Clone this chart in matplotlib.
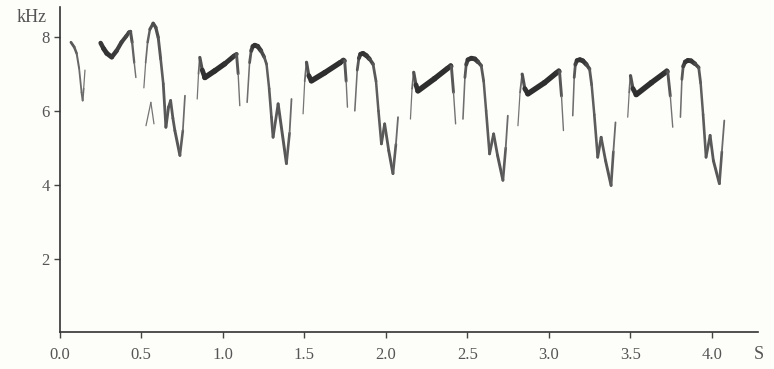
import matplotlib
matplotlib.use('Agg')
import matplotlib.pyplot as plt
from matplotlib.collections import LineCollection

# song elements: time (s), frequency (kHz), relative intensity
a_t = [0.070, 0.090, 0.105, 0.120, 0.135, 0.142, 0.148, 0.156]
a_f = [7.85, 7.72, 7.55, 7.15, 6.50, 6.28, 6.60, 7.10]
a_amp = [2.0, 2.0, 1.6, 1.3, 1.3, 1.5, 1.0, 0.8]

b_t = [0.252, 0.270, 0.290, 0.320, 0.350, 0.380, 0.410, 0.425, 0.435, 0.445, 0.458, 0.468]
b_f = [7.83, 7.68, 7.55, 7.45, 7.62, 7.85, 8.02, 8.12, 8.14, 7.85, 7.30, 6.90]
b_amp = [3.0, 3.5, 3.5, 3.5, 3.0, 3.0, 2.8, 2.6, 2.4, 2.0, 1.3, 0.8]

c_t = [0.517, 0.528, 0.540, 0.554, 0.574, 0.590, 0.605, 0.620, 0.636, 0.652,
       0.668, 0.681, 0.695, 0.707, 0.738, 0.756, 0.769]
c_f = [6.62, 7.30, 7.85, 8.20, 8.36, 8.25, 7.98, 7.40, 6.73, 5.56,
       6.10, 6.28, 5.80, 5.47, 4.80, 5.47, 6.41]
c_amp = [0.8, 1.0, 1.5, 2.0, 2.5, 2.5, 2.2, 2.0, 1.8, 2.2,
         2.0, 2.0, 2.0, 2.0, 2.2, 1.5, 1.0]

d_t = [0.530, 0.560, 0.579]
d_f = [5.60, 6.23, 5.65]
d_amp = [0.8, 1.0, 0.8]

# rising "plateau" notes
up_amp = [0.8, 1.0, 1.6, 3.0, 4.0, 4.0, 3.8, 3.2, 3.0, 1.2, 0.8]
e_t = [0.844, 0.852, 0.860, 0.875, 0.891, 0.952, 1.013, 1.070, 1.085, 1.095, 1.105]
e_f = [6.32, 7.00, 7.44, 7.10, 6.90, 7.08, 7.27, 7.48, 7.53, 7.00, 6.14]
g_t = [1.493, 1.503, 1.514, 1.528, 1.544, 1.626, 1.720, 1.740, 1.748, 1.757, 1.765]
g_f = [5.92, 6.80, 7.31, 6.95, 6.81, 7.03, 7.30, 7.37, 7.35, 6.80, 6.10]
i_t = [2.151, 2.161, 2.171, 2.185, 2.197, 2.299, 2.380, 2.398, 2.402, 2.415, 2.428]
i_f = [5.78, 6.60, 7.04, 6.70, 6.54, 6.87, 7.15, 7.22, 7.20, 6.50, 5.65]
k_t = [2.810, 2.823, 2.836, 2.852, 2.871, 2.973, 3.045, 3.060, 3.065, 3.077, 3.089]
k_f = [5.60, 6.50, 6.99, 6.60, 6.46, 6.76, 7.02, 7.08, 7.06, 6.40, 5.47]
m_t = [3.483, 3.492, 3.500, 3.515, 3.535, 3.628, 3.708, 3.722, 3.728, 3.744, 3.759]
m_f = [5.83, 6.50, 6.95, 6.60, 6.44, 6.76, 7.02, 7.08, 7.06, 6.40, 5.56]

# arch + "W" notes
w_amp = [0.8, 1.5, 2.5, 3.2, 3.5, 3.5, 3.0, 2.2, 1.8, 1.8, 2.0, 2.0, 2.0, 2.2, 1.6, 1.0]
f_t = [1.150, 1.165, 1.175, 1.185, 1.197, 1.215, 1.235, 1.255, 1.269, 1.285,
       1.299, 1.309, 1.340, 1.391, 1.410, 1.422]
f_f = [6.23, 7.30, 7.62, 7.74, 7.77, 7.74, 7.62, 7.45, 7.26, 6.60,
       5.83, 5.29, 6.19, 4.58, 5.40, 6.32]
h_t = [1.810, 1.825, 1.835, 1.845, 1.860, 1.881, 1.900, 1.922, 1.940, 1.955,
       1.973, 1.993, 2.018, 2.044, 2.062, 2.075]
h_f = [6.00, 7.10, 7.42, 7.53, 7.55, 7.49, 7.40, 7.26, 6.80, 6.00,
       5.11, 5.65, 4.93, 4.31, 5.10, 5.83]
j_t = [2.473, 2.485, 2.493, 2.503, 2.525, 2.546, 2.565, 2.585, 2.600, 2.615,
       2.636, 2.661, 2.685, 2.718, 2.735, 2.748]
j_f = [5.78, 6.90, 7.25, 7.38, 7.42, 7.40, 7.32, 7.22, 6.80, 6.00,
       4.84, 5.38, 4.80, 4.13, 5.00, 5.87]
l_t = [3.146, 3.155, 3.162, 3.172, 3.190, 3.208, 3.230, 3.249, 3.262, 3.278,
       3.299, 3.320, 3.347, 3.381, 3.395, 3.408]
l_f = [5.87, 6.90, 7.25, 7.36, 7.38, 7.35, 7.25, 7.13, 6.70, 5.90,
       4.75, 5.29, 4.66, 3.99, 4.90, 5.69]
n_t = [3.806, 3.815, 3.823, 3.835, 3.852, 3.871, 3.895, 3.918, 3.930, 3.945,
       3.963, 3.988, 4.008, 4.045, 4.060, 4.075]
n_f = [5.83, 6.85, 7.20, 7.32, 7.36, 7.35, 7.27, 7.17, 6.75, 5.90,
       4.75, 5.34, 4.66, 4.04, 4.90, 5.74]

elements = [
    (a_t, a_f, a_amp), (b_t, b_f, b_amp), (c_t, c_f, c_amp), (d_t, d_f, d_amp),
    (e_t, e_f, up_amp), (f_t, f_f, w_amp), (g_t, g_f, up_amp), (h_t, h_f, w_amp),
    (i_t, i_f, up_amp), (j_t, j_f, w_amp), (k_t, k_f, up_amp), (l_t, l_f, w_amp),
    (m_t, m_f, up_amp), (n_t, n_f, w_amp),
]

bg = '#fdfdf9'
fig = plt.figure(figsize=(7.74, 3.69), dpi=100, facecolor=bg)
ax = fig.add_axes([0.0769, 0.1003, 0.9021, 0.8807], facecolor=bg)

for t, f, amp in elements:
    segs = []
    widths = []
    cols = []
    for k in range(len(t) - 1):
        segs.append([(t[k], f[k]), (t[k + 1], f[k + 1])])
        w = (amp[k] + amp[k + 1]) / 2
        widths.append(w)
        g = max(0.18, 0.55 - 0.1 * w)
        cols.append((g, g, g))
    lc = LineCollection(segs, linewidths=widths, colors=cols, capstyle='round', joinstyle='round')
    ax.add_collection(lc)

ax.set_xlim(0, 4.28)
ax.set_ylim(0.04, 8.8)
for s in ['top', 'right']:
    ax.spines[s].set_visible(False)
for s in ['left', 'bottom']:
    ax.spines[s].set_color('#333333')
    ax.spines[s].set_linewidth(1.2)

xt = [0.0, 0.5, 1.0, 1.5, 2.0, 2.5, 3.0, 3.5, 4.0]
ax.set_xticks(xt)
ax.set_xticklabels(['%.1f' % v for v in xt])
ax.set_yticks([2, 4, 6, 8])
ax.tick_params(length=4, width=1, color='#444444', labelcolor='#555555', labelsize=12)
ax.tick_params(axis='x', pad=7)
ax.tick_params(axis='y', pad=3)
for lab in ax.get_xticklabels() + ax.get_yticklabels():
    lab.set_family('Liberation Serif')

fig.text(0.041, 0.952, 'kHz', ha='center', va='center', fontsize=13,
         color='#555555', family='Liberation Serif')
fig.text(0.981, 0.040, 'S', ha='center', va='center', fontsize=13,
         color='#555555', family='Liberation Serif')

fig.savefig('out.png', dpi=100, facecolor=bg)
